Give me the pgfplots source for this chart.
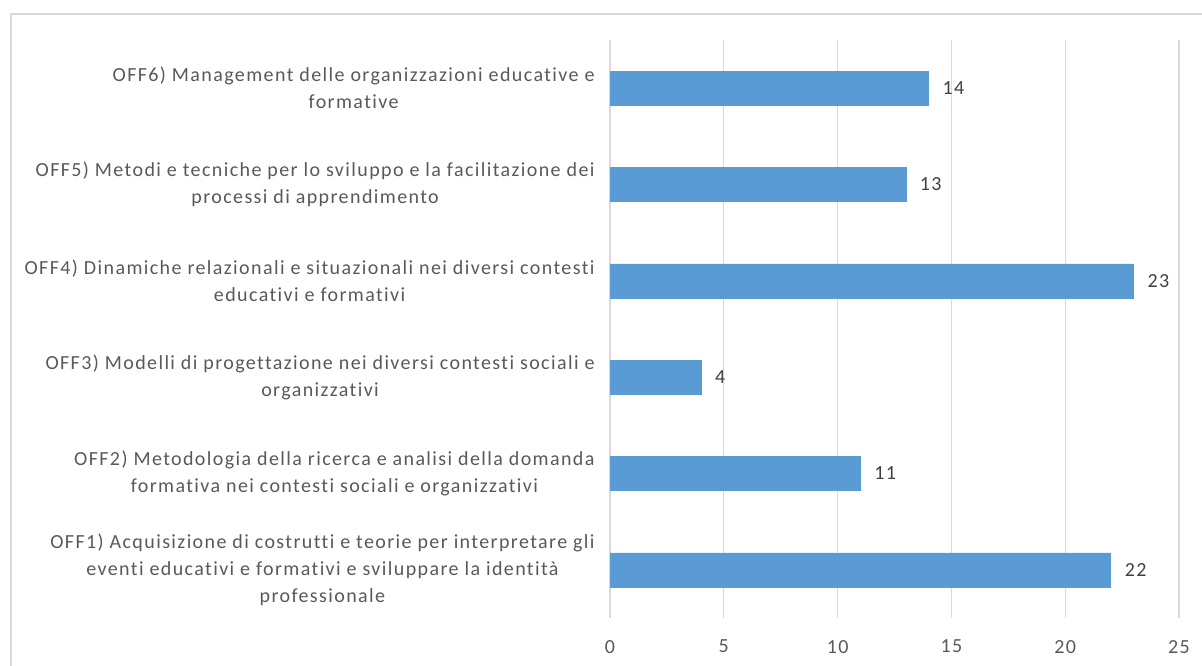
\documentclass[border=0pt]{standalone}
\usepackage{fontspec}
\setmainfont[LetterSpace=7, Ligatures=NoCommon]{Carlito}
\usepackage{pgfplots}
\pgfplotsset{compat=1.18}
\definecolor{barblue}{HTML}{5B9BD5}
\definecolor{gridgray}{HTML}{D9D9D9}
\definecolor{labelgray}{HTML}{595959}
\definecolor{valgray}{HTML}{404040}
\newcommand{\lblfont}{\fontsize{15}{20.25}\selectfont}

\begin{document}
\begin{tikzpicture}
\useasboundingbox (0,0) rectangle (901.5pt,499.5pt);
% chart frame (only the left and top edges are inside the picture)
\draw[gridgray, line width=1.2pt] (8.25pt,0) -- (8.25pt,489pt) -- (901.5pt,489pt);
\begin{axis}[
    at={(457.5pt,36pt)}, anchor=south west,
    scale only axis,
    width=426.75pt, height=433.5pt,
    xbar,
    bar width=25.5pt,
    xmin=0, xmax=25,
    ymin=-0.5, ymax=5.5,
    xtick={0,5,10,15,20,25},
    ytick={0,1,2,3,4,5},
    yticklabels={
        {OFF1) Acquisizione di costrutti e teorie per interpretare gli\\eventi educativi e formativi e sviluppare la identità\\professionale},
        {OFF2) Metodologia della ricerca e analisi della domanda\\formativa nei contesti sociali e organizzativi},
        {OFF3) Modelli di progettazione nei diversi contesti sociali e\\organizzativi},
        {OFF4) Dinamiche relazionali e situazionali nei diversi contesti\\educativi e formativi},
        {OFF5) Metodi e tecniche per lo sviluppo e la facilitazione dei\\processi di apprendimento},
        {OFF6) Management delle organizzazioni educative e\\formative}
    },
    yticklabel style={align=center, font=\lblfont, text=labelgray, xshift=-8pt},
    xticklabel style={font=\lblfont, text=labelgray, yshift=-13pt},
    /pgf/number format/assume math mode=true,
    xmajorgrids=true,
    grid style={gridgray, line width=0.9pt},
    axis line style={draw=none},
    major tick length=0pt,
    nodes near coords,
    nodes near coords style={font=\lblfont, text=valgray, anchor=west, xshift=7pt},
]
\addplot[fill=barblue, draw=barblue] coordinates {
    (22,0)
    (11,1)
    (4,2)
    (23,3)
    (13,4)
    (14,5)
};
\end{axis}
\end{tikzpicture}
\end{document}
